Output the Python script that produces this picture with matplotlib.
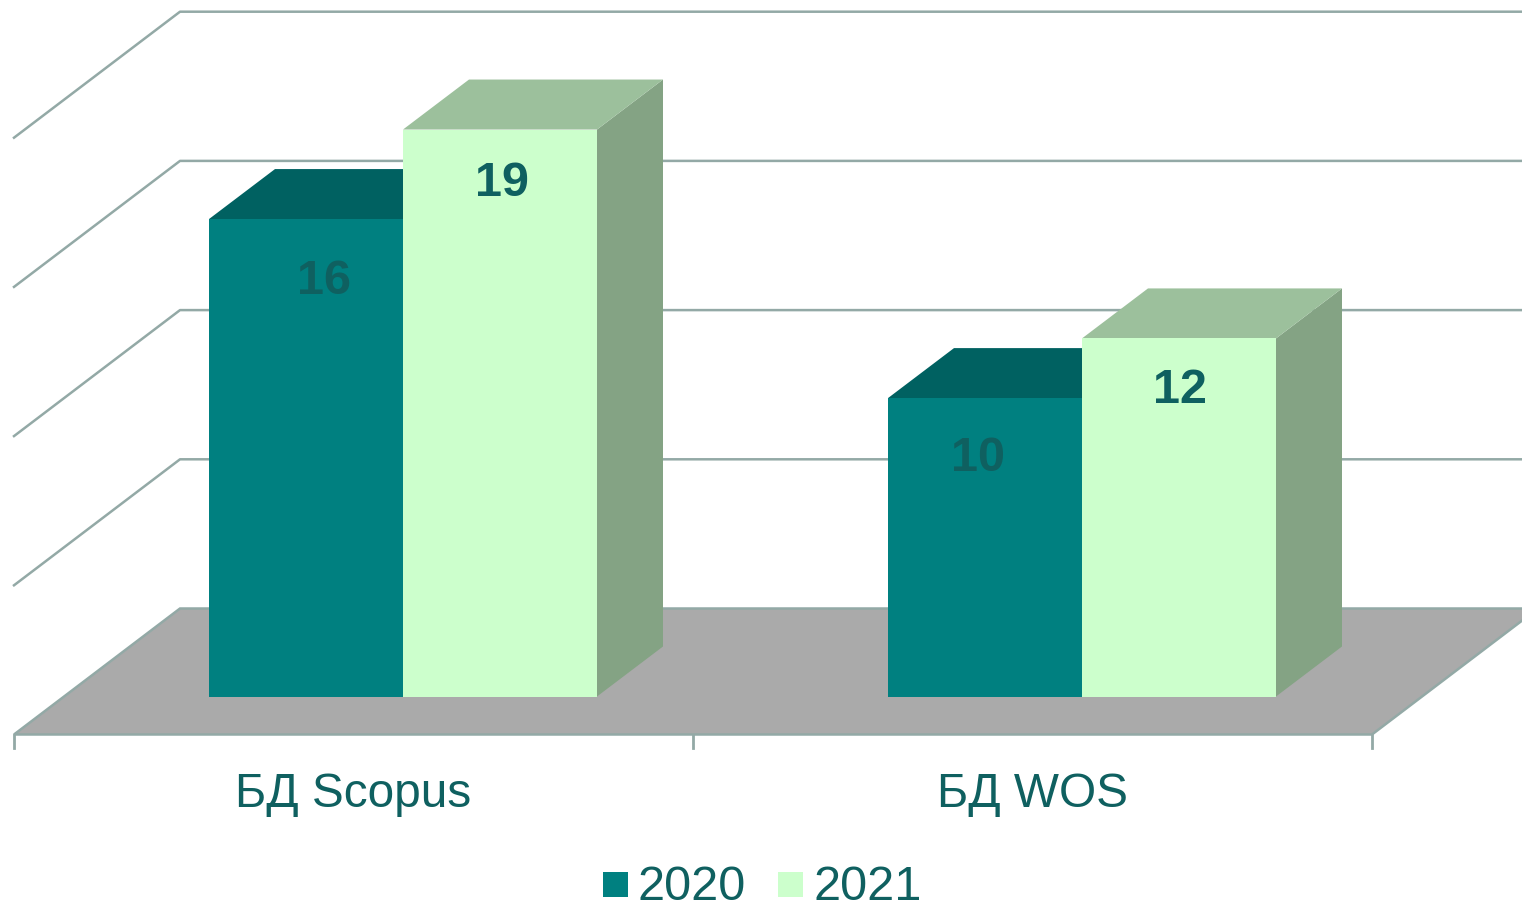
import matplotlib
matplotlib.use('Agg')
import matplotlib.pyplot as plt
from matplotlib.patches import Polygon, Rectangle

plt.rcParams['font.family'] = ['Liberation Sans', 'DejaVu Sans']

categories = ['БД Scopus', 'БД WOS']
series_names = ['2020', '2021']
values_2020 = [16, 10]
values_2021 = [19, 12]
grid_values = [0, 5, 10, 15, 20]

# kolory
TEAL = '#008080'
TEAL_TOP = '#006161'
LIGHT = '#CCFFCC'
LIGHT_TOP = '#9CC09C'
LIGHT_SIDE = '#84A384'
FLOOR = '#AAAAAA'
GRID = '#93A9A6'
TEXT = '#0F6060'

# geometria wykresu w pikselach
px_unit = 29.84
left = 14
cat_w = 679
front_y = 735.5
bar_base = 697.5
bar_w = 194
gap = 195
wall_dx, wall_dy = 166, -126
bar_dx, bar_dy = 66, -50


def wall_y(v):
    return front_y + wall_dy - v * px_unit


def bar_y(v):
    return bar_base - v * px_unit


fig = plt.figure(figsize=(15.22, 9.04), dpi=100)
ax = fig.add_axes([0, 0, 1, 1])
ax.set_xlim(0, 1522)
ax.set_ylim(904, 0)
ax.axis('off')

# podloga
right = left + cat_w * len(categories)
ax.add_patch(Polygon([(left, front_y), (left + wall_dx, front_y + wall_dy),
                      (right + wall_dx, front_y + wall_dy), (right, front_y)],
                     fc=FLOOR, ec=GRID, lw=1.8, zorder=1))

# siatka: sciana lewa i tylna
for v in grid_values[1:]:
    y = wall_y(v)
    ax.plot([left, left + wall_dx, 1522], [y - wall_dy, y, y], color=GRID, lw=1.8, zorder=1)
ax.plot([left, left], [front_y, front_y + 13], color=GRID, lw=2, zorder=1)
for i in range(1, len(categories) + 1):
    x = left + i * cat_w
    ax.plot([x, x], [front_y, front_y + 13], color=GRID, lw=2, zorder=1)


def draw_bar(x, v, front, top, side, z):
    y = bar_y(v)
    ax.add_patch(Polygon([(x + bar_w, y), (x + bar_w + bar_dx, y + bar_dy),
                          (x + bar_w + bar_dx, bar_base + bar_dy), (x + bar_w, bar_base)],
                         fc=side, ec='none', zorder=z))
    ax.add_patch(Polygon([(x, y), (x + bar_dx, y + bar_dy),
                          (x + bar_w + bar_dx, y + bar_dy), (x + bar_w, y)],
                         fc=top, ec='none', zorder=z))
    ax.add_patch(Rectangle((x, y), bar_w, bar_base - y, fc=front, ec='none', zorder=z + 0.1))


for i, cat in enumerate(categories):
    x0 = left + i * cat_w + gap
    draw_bar(x0, values_2020[i], TEAL, TEAL_TOP, TEAL_TOP, 2)
    draw_bar(x0 + bar_w, values_2021[i], LIGHT, LIGHT_TOP, LIGHT_SIDE, 3)
    ax.text(left + i * cat_w + cat_w / 2 + 0, 795, cat, color=TEXT, fontsize=34.4,
            ha='center', va='center', zorder=5)

# podpisy wartosci
label_pos_2020 = [(324, 282), (978, 459)]
label_pos_2021 = [(501.5, 184), (1180, 391)]
for v, (x, y) in zip(values_2020, label_pos_2020):
    ax.text(x, y, str(v), color=TEXT, fontsize=35, fontweight='bold', ha='center', va='center', zorder=5)
for v, (x, y) in zip(values_2021, label_pos_2021):
    ax.text(x, y, str(v), color=TEXT, fontsize=35, fontweight='bold', ha='center', va='center', zorder=5)

# legenda
for x, name, col in zip([603, 778], series_names, [TEAL, LIGHT]):
    ax.add_patch(Rectangle((x, 873), 25, 25, fc=col, ec='none', zorder=5))
    ax.text(x + 35, 888, name, color=TEXT, fontsize=35, ha='left', va='center', zorder=5)

fig.savefig('out.png', dpi=100)
